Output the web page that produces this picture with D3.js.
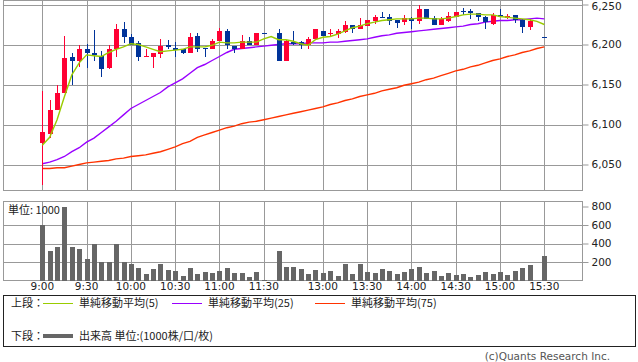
<!DOCTYPE html>
<html>
<head>
<meta charset="utf-8">
<script src="https://cdn.jsdelivr.net/npm/d3@7"></script>
<style>
  body { margin: 0; background: #fff; }
  text { font-family: "DejaVu Sans", sans-serif; }
  .jp { font-family: "Noto Sans CJK JP", sans-serif; }
</style>
</head>
<body>
<div id="chart"></div>
<script>
// 5 min bars, slot index (slot 31 = lunch break, 67 = closing auction wait)
var slots  = [0,1,2,3,4,5,6,7,8,9,10,11,12,13,14,15,16,17,18,19,20,21,22,23,24,25,26,27,28,29,30,
              32,33,34,35,36,37,38,39,40,41,42,43,44,45,46,47,48,49,50,51,52,53,54,55,56,57,58,59,60,61,62,63,64,65,66,68]
var opens  = [6077,6088,6118,6139,6185,6179,6195,6190,6186,6171,6195,6219,6209,6202,6184,6184,6188,6199,6196,6194,6190,6211,6196,6194,6205,6217,6198,6194,6205,6199,6215,
              6215,6180,6203,6203,6199,6207,6217,6213,6213,6216,6225,6220,6223,6230,6235,6234,6231,6228,6233,6230,6244,6233,6224,6230,6235,6242,6242,6239,6235,6226,6237,6233,6237,6231,6222,6210]
var highs  = [6142,6131,6150,6211,6190,6200,6201,6218,6192,6200,6226,6228,6213,6204,6194,6190,6207,6206,6203,6194,6214,6214,6196,6207,6221,6220,6198,6212,6209,6215,6215,
              6219,6206,6217,6205,6209,6219,6217,6220,6220,6230,6225,6233,6231,6237,6241,6238,6231,6237,6235,6249,6245,6236,6234,6241,6241,6246,6244,6240,6236,6239,6244,6238,6237,6232,6232,6210]
var lows   = [6025,6083,6118,6139,6150,6172,6171,6179,6160,6170,6184,6202,6199,6180,6184,6171,6183,6195,6185,6188,6190,6191,6184,6194,6205,6194,6189,6194,6199,6199,6214,
              6179,6180,6199,6195,6195,6207,6211,6211,6208,6215,6215,6220,6223,6226,6233,6225,6221,6224,6219,6226,6232,6225,6224,6228,6235,6237,6232,6230,6220,6225,6235,6232,6227,6215,6218,6210]
var closes = [6091,6118,6139,6183,6179,6195,6189,6187,6170,6195,6219,6209,6199,6184,6186,6190,6198,6197,6193,6190,6210,6194,6195,6205,6217,6199,6194,6205,6200,6215,6214,
              6180,6204,6201,6200,6207,6219,6211,6215,6217,6225,6220,6224,6231,6235,6234,6230,6227,6233,6230,6244,6232,6225,6232,6236,6241,6241,6239,6234,6228,6237,6235,6236,6231,6222,6230,6210]
var volumes = [600,320,360,800,360,340,230,395,195,195,400,195,178,135,70,124,178,110,103,49,135,70,92,81,103,135,81,81,41,92,10,
               320,146,146,124,70,113,81,103,49,178,70,178,92,81,124,103,70,92,124,146,81,103,49,81,60,70,38,60,92,70,92,60,103,135,168,265]

// moving averages, one value per slot 0..68
var ma5  = [6074,6084,6106,6135,6162,6177,6187,6186,6185,6190,6194,6197,6201,6200,6197,6194,6191,6192,6193,6194,6197,6197,6197,6199,6203,6202,6202,6203,6203,6203,6207,
            6210,6206,6206,6204,6201,6199,6206,6209,6210,6213,6217,6221,6223,6226,6228,6230,6231,6232,6232,6232,6233,6233,6232,6232,6233,6235,6237,6238,6238,6237,6237,6235,6234,6233,6232,6231,6229,6225]
var ma25 = [6051,6053,6056,6060,6066,6071,6078,6083,6090,6097,6104,6112,6120,6125,6130,6135,6140,6147,6152,6157,6164,6171,6175,6180,6185,6190,6194,6195,6196,6197,6198,
            6199,6200,6201,6201,6201,6202,6202,6202,6203,6203,6204,6205,6206,6207,6209,6211,6212,6214,6215,6216,6217,6218,6219,6220,6221,6222,6223,6225,6226,6228,6229,6230,6230,6231,6231,6232,6233,6232]
var ma75 = [6045,6045,6046,6046,6048,6050,6052,6053,6054,6055,6057,6058,6060,6061,6062,6064,6066,6069,6072,6076,6079,6084,6087,6090,6093,6096,6098,6101,6103,6104,6106,
            6108,6110,6112,6114,6116,6118,6120,6122,6125,6127,6130,6132,6135,6137,6139,6142,6144,6146,6149,6151,6153,6156,6158,6161,6164,6167,6169,6172,6174,6177,6180,6182,6185,6187,6190,6192,6195,6197]

var timeSlots  = [0,6,12,18,24,30,38,44,50,56,62,68]
var timeLabels = ["9:00","9:30","10:00","10:30","11:00","11:30","13:00","13:30","14:00","14:30","15:00","15:30"]
var priceTicks = [6050,6100,6150,6200,6250]
var volTicks   = [200,400,600,800]

var upColor = "#ff0033", downColor = "#003399", gridColor = "#999"

var svg = d3.select("#chart")
  .append("svg")
    .attr("width", 638)
    .attr("height", 362)

// panel frames
var left = 3.5, right = 582.5
var top1 = 0.5, bottom1 = 190.5
var top2 = 201.5, bottom2 = 280.5

var x = d3.scaleLinear().domain([0, 68]).range([42.3, 544.3])
var y = d3.scaleLinear().domain([6050, 6250]).range([164.5, 4.5])
var yv = d3.scaleLinear().domain([0, 800]).range([bottom2, 206.5])

var px = function(v) { return Math.round(v) + 0.5 }

// ---- upper panel grid
var grid = svg.append("g").attr("stroke", gridColor).attr("stroke-width", 1).attr("fill", "none")
grid.selectAll(".hp").data(priceTicks).enter().append("line")
  .attr("x1", left).attr("x2", right)
  .attr("y1", function(d) { return px(y(d)) }).attr("y2", function(d) { return px(y(d)) })
grid.selectAll(".vp").data(timeSlots).enter().append("line")
  .attr("x1", function(d) { return px(x(d)) }).attr("x2", function(d) { return px(x(d)) })
  .attr("y1", top1).attr("y2", bottom1)
grid.append("rect").attr("x", left).attr("y", top1).attr("width", right - left).attr("height", bottom1 - top1)

// ---- lower panel grid
grid.selectAll(".hv").data(volTicks.slice(0, 3)).enter().append("line")
  .attr("x1", left).attr("x2", right)
  .attr("y1", function(d) { return px(yv(d)) }).attr("y2", function(d) { return px(yv(d)) })
grid.selectAll(".vv").data(timeSlots).enter().append("line")
  .attr("x1", function(d) { return px(x(d)) }).attr("x2", function(d) { return px(x(d)) })
  .attr("y1", top2).attr("y2", bottom2)
grid.append("rect").attr("x", left).attr("y", top2).attr("width", right - left).attr("height", bottom2 - top2)

// right axes
var yAxis = d3.axisRight(y).tickValues(priceTicks).tickSize(6).tickPadding(3).tickFormat(d3.format(","))
svg.append("g").attr("transform", "translate(" + right + ",0)").call(yAxis)
var vAxis = d3.axisRight(yv).tickValues(volTicks).tickSize(6).tickPadding(3)
svg.append("g").attr("transform", "translate(" + right + ",0)").call(vAxis)
svg.selectAll(".domain").remove()
svg.selectAll(".tick line").attr("stroke", gridColor)
svg.selectAll(".tick text").attr("font-size", "10.5px").attr("fill", "#222").attr("font-family", "DejaVu Sans")
// keep the top price label inside the picture
svg.selectAll(".tick text").filter(function(d) { return d === 6250 }).attr("dy", "0.45em")

// time labels
svg.selectAll(".tl").data(timeSlots).enter().append("text")
  .attr("x", function(d) { return x(d) })
  .attr("y", 290)
  .attr("text-anchor", "middle")
  .attr("font-size", "10.5px")
  .attr("fill", "#222")
  .text(function(d, i) { return timeLabels[i] })

// ---- moving averages
var maLine = function(arr) {
  var pts = arr.map(function(v, i) { return [i, v] })
  return d3.line().x(function(d) { return x(d[0]) }).y(function(d) { return y(d[1]) })(pts)
}
svg.append("path").attr("d", maLine(ma75)).attr("fill", "none").attr("stroke", "#ff3300").attr("stroke-width", 1.4)
svg.append("path").attr("d", maLine(ma25)).attr("fill", "none").attr("stroke", "#9900ff").attr("stroke-width", 1.4)

// ---- candles
var candles = slots.map(function(s, i) {
  return { s: s, o: opens[i], h: highs[i], l: lows[i], c: closes[i], v: volumes[i] }
})
var cg = svg.append("g").attr("shape-rendering", "crispEdges")
cg.selectAll(".wick").data(candles).enter().append("line")
  .attr("x1", function(d) { return px(x(d.s)) }).attr("x2", function(d) { return px(x(d.s)) })
  .attr("y1", function(d) { return y(d.h) }).attr("y2", function(d) { return y(d.l) })
  .attr("stroke", function(d) { return d.c > d.o ? upColor : downColor })
cg.selectAll(".body").data(candles).enter().append("rect")
  .attr("x", function(d) { return Math.round(x(d.s)) - 2 })
  .attr("width", 5)
  .attr("y", function(d) { return y(Math.max(d.o, d.c)) })
  .attr("height", function(d) { return Math.max(1, Math.abs(y(d.o) - y(d.c))) })
  .attr("fill", function(d) { return d.c > d.o ? upColor : downColor })

svg.append("path").attr("d", maLine(ma5)).attr("fill", "none").attr("stroke", "#99cc00").attr("stroke-width", 1.4)

// ---- volume
svg.append("g").attr("shape-rendering", "crispEdges")
  .selectAll("rect").data(candles).enter().append("rect")
  .attr("x", function(d) { return Math.round(x(d.s)) - 2 })
  .attr("width", 5)
  .attr("y", function(d) { return yv(d.v) })
  .attr("height", function(d) { return bottom2 - yv(d.v) })
  .attr("fill", "#666")

svg.append("text").attr("class", "jp").attr("x", 8).attr("y", 214)
  .attr("font-size", "11px").attr("fill", "#222").text("単位: 1000")

// ---- legend
var lg = svg.append("g")
lg.append("rect").attr("x", 3.5).attr("y", 295.5).attr("width", 632).attr("height", 51)
  .attr("fill", "none").attr("stroke", "#222")
var legendItems = [
  { x: 43, label: "単純移動平均(5)", color: "#99cc00" },
  { x: 172, label: "単純移動平均(25)", color: "#9900ff" },
  { x: 315, label: "単純移動平均(75)", color: "#ff3300" }
]
lg.append("text").attr("class", "jp").attr("x", 11).attr("y", 307).attr("font-size", "11px").attr("fill", "#222").text("上段：")
lg.selectAll(".li").data(legendItems).enter().append("line")
  .attr("x1", function(d) { return d.x }).attr("x2", function(d) { return d.x + 30 })
  .attr("y1", 303.5).attr("y2", 303.5).attr("stroke", function(d) { return d.color })
lg.selectAll(".lt").data(legendItems).enter().append("text")
  .attr("class", "jp").attr("x", function(d) { return d.x + 36 }).attr("y", 307)
  .attr("font-size", "11px").attr("fill", "#222").text(function(d) { return d.label })
lg.append("text").attr("class", "jp").attr("x", 11).attr("y", 340).attr("font-size", "11px").attr("fill", "#222").text("下段：")
lg.append("line").attr("x1", 43).attr("x2", 73).attr("y1", 336).attr("y2", 336).attr("stroke", "#666").attr("stroke-width", 4)
lg.append("text").attr("class", "jp").attr("x", 79).attr("y", 340).attr("font-size", "11px").attr("fill", "#222").text("出来高 単位:(1000株/口/枚)")

svg.append("text").attr("x", 610).attr("y", 360).attr("text-anchor", "end")
  .attr("font-size", "10.5px").attr("fill", "#555").text("(c)Quants Research Inc.")
</script>
</body>
</html>
